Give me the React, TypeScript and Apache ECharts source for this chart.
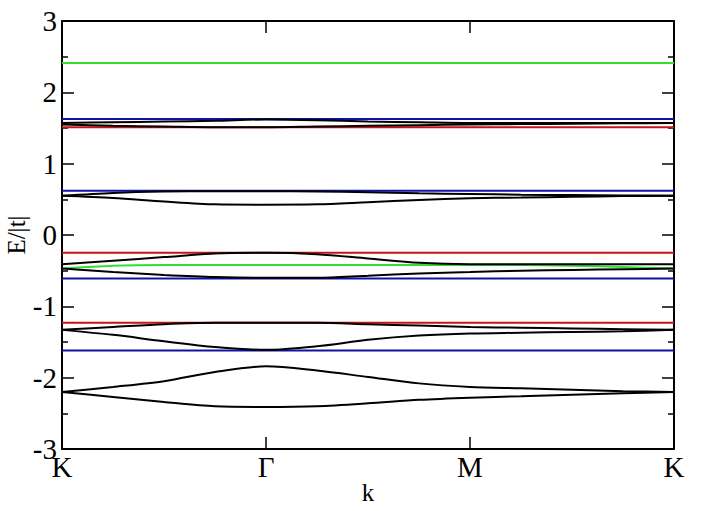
import React, { useEffect, useRef } from "react";
import * as echarts from "echarts";

const kTickLabels = ["K", "Γ", "M", "K"];
const kPos = [0, 0.25, 0.5, 0.75, 1, 1.25, 1.5, 1.75, 2, 2.25, 2.5, 2.75, 3];

// dispersive (black) bands
const band1Upper = [-2.2, -2.13, -2.05, -1.92, -1.84, -1.9, -1.99, -2.08, -2.13, -2.15, -2.17, -2.19, -2.2];
const band1Lower = [-2.2, -2.27, -2.34, -2.4, -2.41, -2.4, -2.36, -2.31, -2.28, -2.26, -2.24, -2.22, -2.2];
const band2Upper = [-1.33, -1.29, -1.25, -1.23, -1.23, -1.23, -1.25, -1.27, -1.29, -1.3, -1.31, -1.32, -1.33];
const band2Lower = [-1.33, -1.4, -1.49, -1.57, -1.61, -1.56, -1.47, -1.41, -1.38, -1.37, -1.36, -1.35, -1.33];
const band3Upper = [-0.41, -0.36, -0.31, -0.26, -0.25, -0.27, -0.33, -0.39, -0.41, -0.41, -0.41, -0.41, -0.41];
const band3Lower = [-0.47, -0.52, -0.56, -0.59, -0.6, -0.6, -0.57, -0.54, -0.52, -0.5, -0.49, -0.48, -0.47];
const band4Upper = [0.55, 0.59, 0.61, 0.615, 0.615, 0.61, 0.6, 0.585, 0.575, 0.565, 0.56, 0.555, 0.55];
const band4Lower = [0.55, 0.52, 0.47, 0.43, 0.425, 0.43, 0.46, 0.49, 0.515, 0.525, 0.535, 0.545, 0.55];
const band5Upper = [1.57, 1.58, 1.59, 1.6, 1.62, 1.61, 1.59, 1.58, 1.57, 1.57, 1.57, 1.57, 1.57];
const band5Lower = [1.55, 1.53, 1.52, 1.51, 1.51, 1.52, 1.53, 1.54, 1.55, 1.555, 1.56, 1.565, 1.57];

// green band near -0.42
const greenBand = [-0.47, -0.43, -0.42, -0.42, -0.42, -0.42, -0.42, -0.42, -0.42, -0.42, -0.43, -0.45, -0.47];

// flat bands
const flatRed = [1.51, -0.25, -1.23];
const flatBlue = [1.625, 0.62, -0.61, -1.62];
const flatGreen = [2.41];

const RED = "#cc1111";
const BLUE = "#1111aa";
const GREEN = "#33dd33";
const FONT = "Times New Roman, Liberation Serif, serif";

export default function App() {
  const ref = useRef<HTMLDivElement>(null);
  useEffect(() => {
    if (!ref.current) return;
    const chart = echarts.init(ref.current, undefined, { renderer: "svg" });
    const curve = (vals: number[], color: string) => ({
      type: "line",
      data: kPos.map((k, i) => [k, vals[i]]),
      showSymbol: false,
      smooth: 0.3,
      lineStyle: { color, width: 2 },
      silent: true,
      z: 3,
    });
    const flat = (v: number, color: string) => ({
      type: "line",
      data: [
        [kPos[0], v],
        [kPos[kPos.length - 1], v],
      ],
      showSymbol: false,
      lineStyle: { color, width: 2 },
      silent: true,
      z: 2,
    });
    const series: any[] = [];
    flatGreen.forEach((v) => series.push(flat(v, GREEN)));
    flatBlue.forEach((v) => series.push(flat(v, BLUE)));
    flatRed.forEach((v) => series.push(flat(v, RED)));
    series.push(curve(greenBand, GREEN));
    [band1Upper, band1Lower, band2Upper, band2Lower, band3Upper, band3Lower, band4Upper, band4Lower, band5Upper, band5Lower].forEach(
      (b) => series.push(curve(b, "#000"))
    );

    const axisLine = { show: true, onZero: false, lineStyle: { color: "#000", width: 2 } };
    chart.setOption({
      animation: false,
      backgroundColor: "#fff",
      textStyle: { fontFamily: FONT },
      grid: { left: 62, right: 37, top: 21, bottom: 62, containLabel: false, outerBoundsMode: "none" },
      xAxis: [
        {
          type: "value",
          min: 0,
          max: 3,
          interval: 1,
          position: "bottom",
          axisLine,
          axisTick: { show: true, inside: true, length: 12, lineStyle: { color: "#000", width: 1.5 } },
          axisLabel: {
            formatter: (v: number) => kTickLabels[Math.round(v)] ?? "",
            color: "#000",
            fontFamily: FONT,
            fontSize: 29,
            margin: 3,
          },
          splitLine: { show: false },
          name: "k",
          nameLocation: "middle",
          nameGap: 31,
          nameMoveOverlap: false,
          nameTextStyle: { color: "#000", fontFamily: FONT, fontSize: 25 },
        },
        {
          type: "value",
          min: 0,
          max: 3,
          interval: 1,
          position: "top",
          axisLine,
          axisTick: { show: true, inside: true, length: 12, lineStyle: { color: "#000", width: 1.5 } },
          axisLabel: { show: false },
          splitLine: { show: false },
        },
      ],
      yAxis: [
        {
          type: "value",
          min: -3,
          max: 3,
          interval: 1,
          position: "left",
          axisLine,
          axisTick: { show: true, inside: true, length: 12, lineStyle: { color: "#000", width: 1.5 } },
          minorTick: { show: true, splitNumber: 2, length: 6, lineStyle: { color: "#000", width: 1.5 } },
          axisLabel: { color: "#000", fontFamily: FONT, fontSize: 29, margin: 5 },
          splitLine: { show: false },
          minorSplitLine: { show: false },
          name: "E/|t|",
          nameLocation: "middle",
          nameGap: 33,
          nameMoveOverlap: false,
          nameTextStyle: { color: "#000", fontFamily: FONT, fontSize: 25 },
        },
        {
          type: "value",
          min: -3,
          max: 3,
          interval: 1,
          position: "right",
          axisLine,
          axisTick: { show: true, inside: true, length: 12, lineStyle: { color: "#000", width: 1.5 } },
          minorTick: { show: true, splitNumber: 2, length: 6, lineStyle: { color: "#000", width: 1.5 } },
          axisLabel: { show: false },
          splitLine: { show: false },
          minorSplitLine: { show: false },
        },
      ],
      series,
    });
    return () => chart.dispose();
  }, []);
  return <div ref={ref} style={{ width: 711, height: 511, position: "absolute", left: 0, top: 0 }} />;
}
